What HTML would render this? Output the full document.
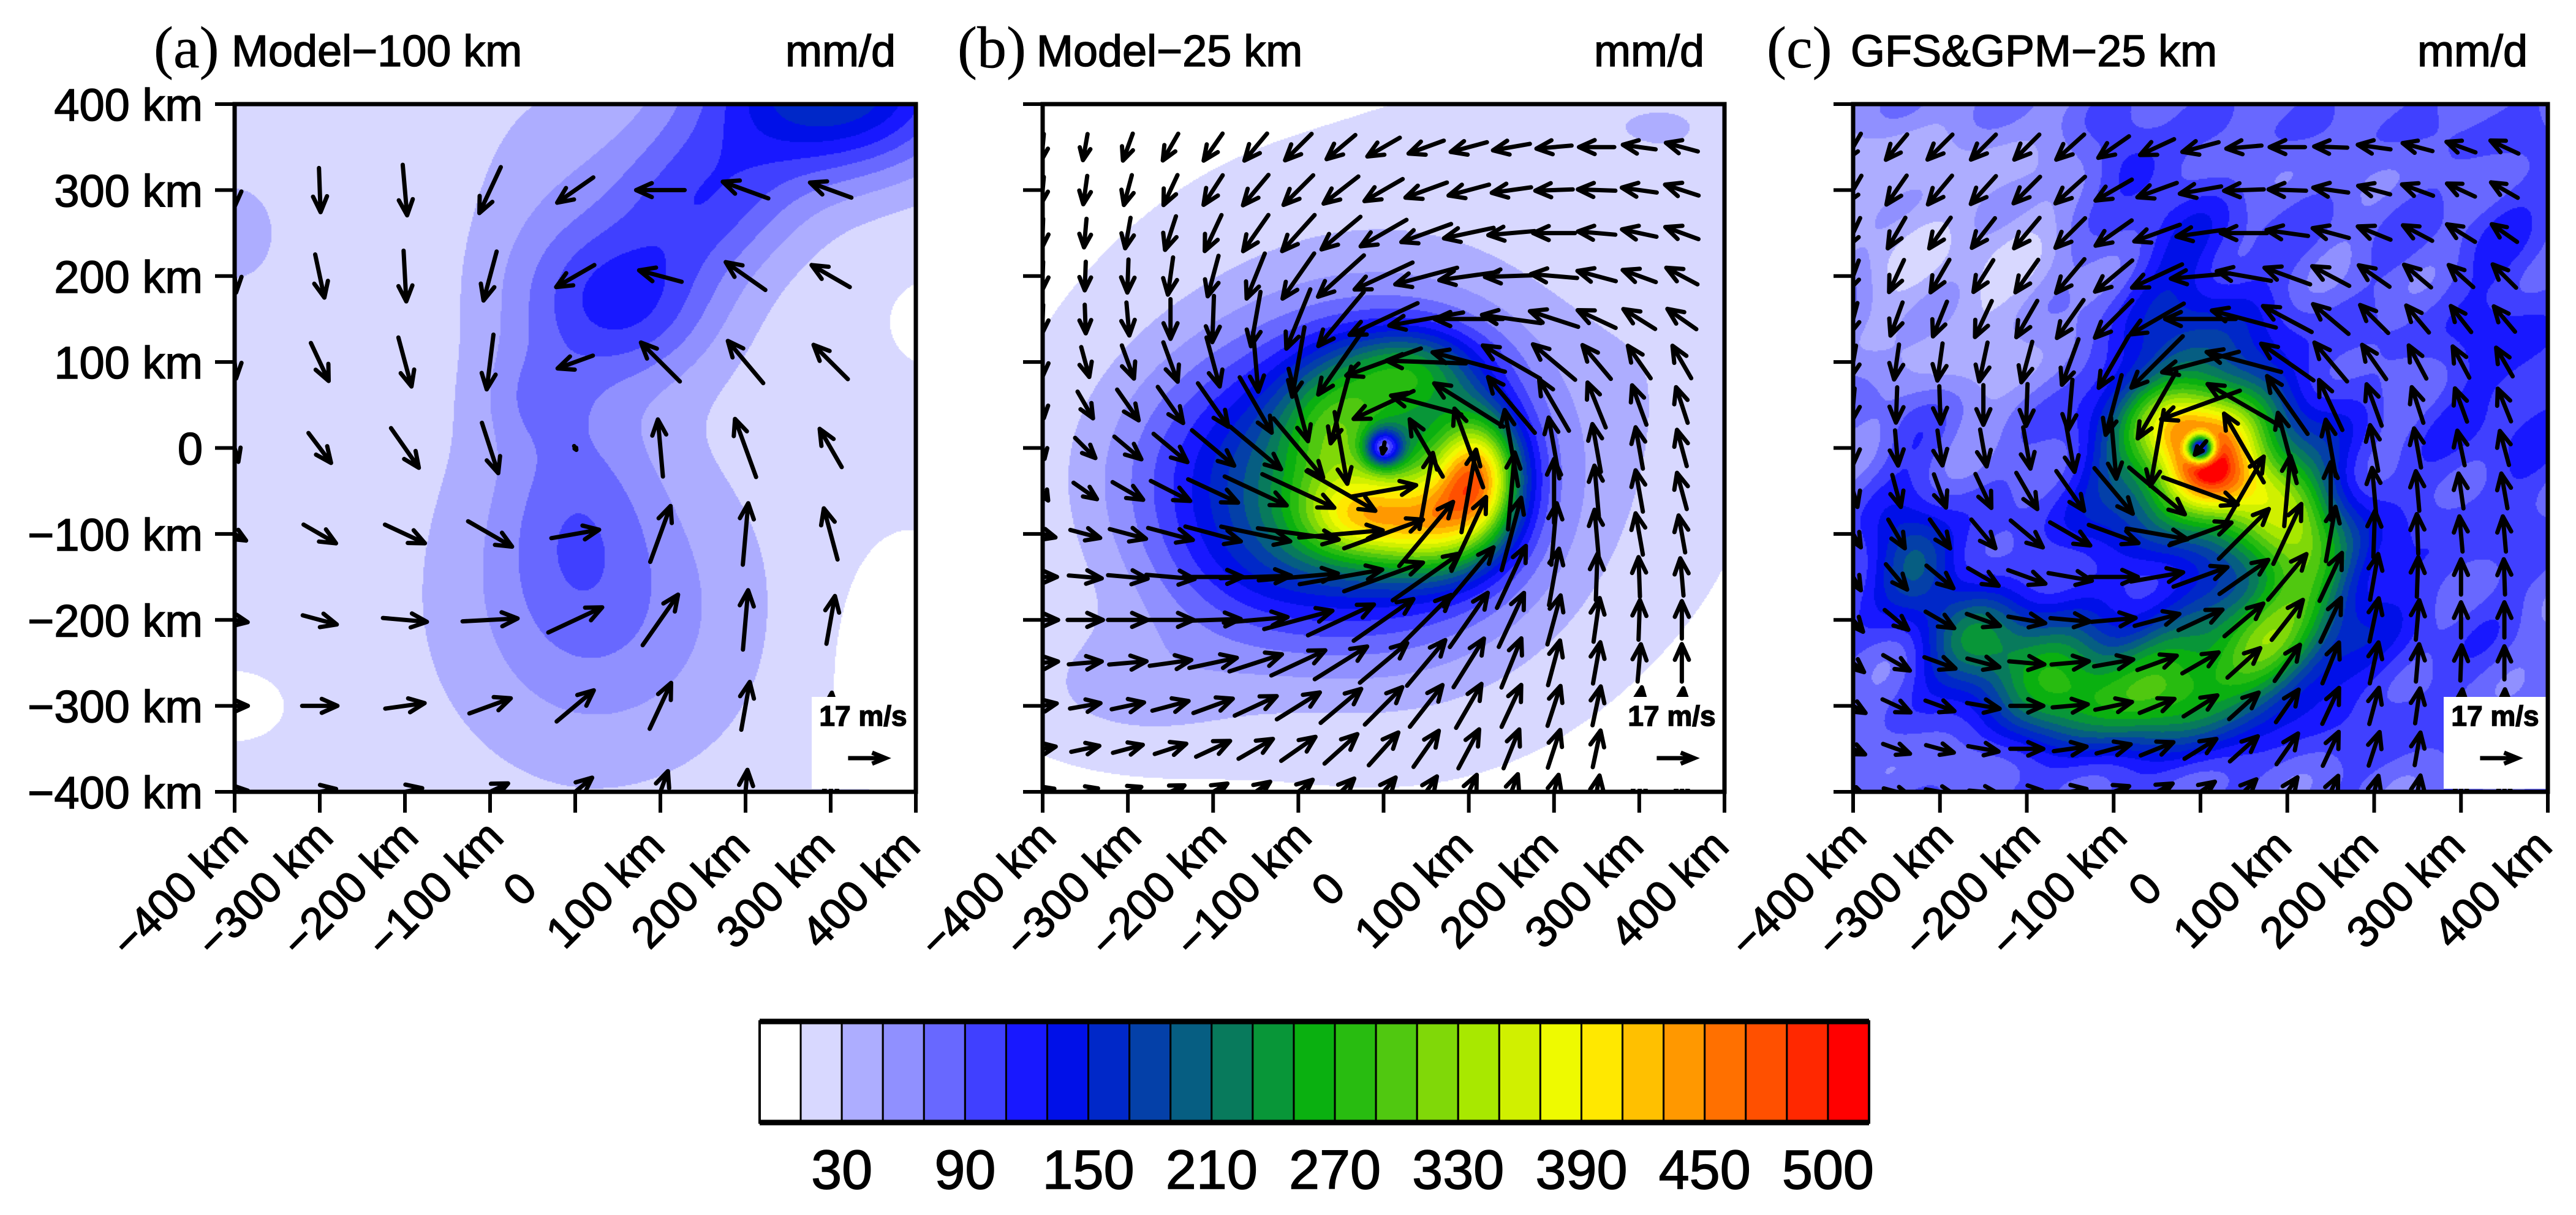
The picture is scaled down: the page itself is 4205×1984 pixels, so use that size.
<!DOCTYPE html>
<html><head><meta charset="utf-8">
<style>
html,body{margin:0;padding:0;background:#fff}
#root{position:relative;width:4205px;height:1984px;background:#fff;overflow:hidden}
canvas{position:absolute}
svg{position:absolute;left:0;top:0}
text{font-family:"Liberation Sans",sans-serif;fill:#000;stroke:#000;stroke-width:1.5}
</style></head>
<body>
<div id="root">
<canvas id="ca"></canvas>
<canvas id="cb"></canvas>
<canvas id="cc"></canvas>
<svg id="sv" width="4205" height="1984" xmlns="http://www.w3.org/2000/svg"></svg>
</div>
<script>
// ---------- data ----------
const levels = [10,30,50,70,90,110,130,150,170,190,210,230,250,270,290,310,330,350,370,390,410,430,450,470,490,500];
const colors = ['#ffffff','#d8d8ff','#adadff','#9090ff','#6868ff','#4040ff','#1818ff','#0010e8','#0028c8','#0440a8','#065e82','#087a5c','#089638','#0ab010','#28bc10','#50c810','#80d808','#a8e800','#d0f000','#eefa00','#ffe800','#ffc000','#ff9800','#ff7000','#ff5000','#ff2800','#ff0000'];
const cbLabels = ['30','90','150','210','270','330','390','450','500'];
const cbLabelIdx = [2,5,8,11,14,17,20,23,26];
const axisTicks = [-400,-300,-200,-100,0,100,200,300,400];
const axisLabels = ['\u2212400 km','\u2212300 km','\u2212200 km','\u2212100 km','0','100 km','200 km','300 km','400 km'];

// precipitation blobs: [x km, y km, rx km, ry km, amplitude mm/d]
const fieldA_base = 15;
const fieldA = [[300,420,150,100,160],[60,170,110,90,85],[150,290,110,90,75],[0,-80,90,140,38],[50,-200,170,160,30],
 [-30,250,110,200,24],[0,-150,200,250,22],[-400,250,100,120,18],[380,-250,100,150,-17],[-400,-300,60,40,-15],[420,150,80,80,-8],[-50,60,60,60,25]];
const fieldB_base = 0;
const fieldB = [[110,-30,50,70,280],[60,-90,70,60,180],[-30,-80,70,50,150],[-60,30,60,70,90],[30,90,80,50,130],[0,-40,170,170,150],
 [-150,-40,170,140,90],[0,0,320,300,45],[0,0,22,22,-200],[300,380,200,60,20],[350,200,100,250,15],[-300,-280,150,80,30],[-150,-150,120,80,25]];
const fieldC_base = 82;
const fieldC = [[-250,200,130,200,-50],[-380,300,60,150,-30],[0,0,110,110,260],[0,0,50,50,140],[0,0,15,15,-430],[20,-40,55,35,90],[-40,30,40,40,50],
 [-330,-130,50,60,120],[-250,-230,70,60,140],[-150,-280,80,70,170],[-30,-280,80,70,180],[70,-230,70,70,180],[120,-130,60,80,170],[80,-60,60,60,100],
 [-20,200,80,100,50],[350,100,80,200,35],[200,-200,100,150,30],[-150,-100,90,70,20],[-320,0,50,60,30],[-80,330,50,40,40]];

// wind vectors panel a: rows y = 300..-400, cols x = -400..300
const aX = [-400,-300,-200,-100,0,100,200,300];
const aY = [300,200,100,0,-100,-200,-300,-400];
const aAng = [
[270,272,275,245,215,180,160,160],
[275,282,273,255,210,165,145,150],
[275,295,285,263,200,135,130,135],
[285,307,305,288,300,95,110,120],
[330,330,335,330,10,70,85,105],
[350,345,355,3,25,55,85,80],
[0,0,8,20,40,65,80,85],
[5,10,12,25,40,70,85,85]];
const aSpd = [
[15,20,23,23,20,22,22,20],
[15,20,23,23,20,20,22,20],
[15,19,23,25,17,25,25,22],
[13,17,22,24,2,26,28,20],
[12,17,20,23,22,27,28,24],
[12,16,20,25,27,28,27,22],
[12,16,18,20,22,23,22,12],
[12,15,16,18,20,20,20,15]];

// panels b,c: rows y = 350..-400, cols x = -400..350 (50 km)
const bcX = [-400,-350,-300,-250,-200,-150,-100,-50,0,50,100,150,200,250,300,350];
const bcY = [350,300,250,200,150,100,50,0,-50,-100,-150,-200,-250,-300,-350,-400];
const bAng = [
[265,260,250,240,235,230,225,220,210,200,195,190,185,180,172,165],
[265,262,255,245,237,230,225,218,210,200,195,188,182,178,172,162],
[268,265,260,252,245,235,228,220,210,200,192,185,180,175,168,160],
[268,268,268,262,255,248,235,222,205,195,188,182,175,165,160,152],
[268,272,275,270,268,260,248,230,205,190,180,172,162,155,148,145],
[270,285,290,290,285,275,260,235,200,178,165,150,140,130,125,120],
[275,300,305,305,305,300,285,255,205,165,148,130,120,112,110,108],
[280,315,320,320,320,320,310,280,260,120,110,100,100,100,100,105],
[300,325,330,333,335,335,335,330,10,80,80,85,90,95,100,105],
[345,345,345,345,345,348,352,5,20,50,65,75,85,95,100,100],
[0,355,355,355,0,2,5,10,20,35,50,65,80,88,92,95],
[0,0,0,0,2,5,15,25,35,45,55,65,75,82,88,90],
[5,5,5,8,12,18,25,32,40,50,58,68,75,80,85,90],
[10,10,12,15,20,25,32,40,45,52,60,65,72,78,82,85],
[10,12,15,18,25,30,35,42,48,55,62,68,72,78,80,85],
[15,15,20,25,30,35,40,45,50,55,65,70,75,80,80,85]];
const bSpd = [
[12,12,13,14,15,16,17,17,17,17,17,17,16,16,15,15],
[12,13,14,15,16,18,19,20,20,20,19,18,17,17,16,16],
[13,13,14,16,18,20,22,23,24,24,23,21,19,17,16,16],
[13,13,15,17,19,22,25,28,29,29,27,24,21,18,16,16],
[13,13,15,18,21,25,29,32,34,34,31,27,23,19,17,16],
[13,14,16,19,23,27,32,36,36,36,34,30,25,20,18,17],
[12,14,17,20,24,29,34,36,30,33,37,33,27,22,19,17],
[10,13,16,20,25,30,35,33,5,30,38,35,28,22,19,17],
[10,13,16,20,25,31,36,36,30,35,38,35,29,23,19,17],
[12,14,17,21,26,32,37,38,38,38,37,34,28,22,19,17],
[13,15,18,22,27,32,36,38,38,37,35,31,26,21,18,17],
[14,16,18,21,25,29,32,33,33,32,30,27,23,20,18,17],
[14,15,17,19,22,25,27,28,28,27,26,24,21,19,17,17],
[13,14,15,17,19,21,23,24,24,24,23,21,19,18,17,16],
[12,13,14,15,17,18,19,20,20,20,20,19,18,17,16,15],
[11,12,13,14,15,16,17,17,17,17,17,17,16,15,15,14]];
const cAng = [
[240,230,225,225,225,222,215,205,195,185,180,178,172,165,160,155],
[240,235,230,228,225,222,210,200,190,182,178,172,165,160,155,150],
[245,240,235,232,230,225,215,200,188,180,172,165,158,152,148,145],
[250,245,240,238,235,230,220,205,185,170,160,152,145,140,138,135],
[255,250,248,245,240,235,225,210,180,165,152,140,135,130,128,130],
[260,262,262,258,255,250,240,225,195,165,145,130,125,118,118,120],
[265,268,272,270,268,265,255,240,200,150,125,115,110,108,110,112],
[270,275,278,280,280,280,275,260,230,120,105,100,100,100,102,105],
[285,285,290,295,300,305,310,320,340,60,85,90,95,95,98,100],
[300,300,305,310,320,330,340,350,20,45,65,80,88,92,95,95],
[300,310,320,330,340,350,0,10,20,35,50,65,80,88,90,92],
[310,320,330,340,350,355,5,15,25,40,52,65,78,85,90,90],
[320,330,340,345,355,5,10,20,30,42,55,68,78,85,88,90],
[330,335,340,350,0,5,12,22,32,42,55,65,75,82,85,88],
[335,340,345,350,0,8,15,22,32,42,55,65,72,80,85,88],
[340,345,350,355,5,10,20,28,35,45,55,65,75,80,85,88]];
const cSpd = [
[14,15,16,16,16,17,17,17,17,16,16,15,15,14,14,14],
[15,16,17,17,17,18,19,19,19,18,17,16,15,15,14,14],
[15,16,17,17,18,19,20,22,22,21,19,17,16,15,15,14],
[15,16,17,17,18,20,22,25,27,25,22,19,17,16,15,15],
[15,16,17,18,19,21,24,28,32,30,25,21,18,16,15,15],
[15,16,17,18,19,22,27,33,36,35,29,23,19,17,16,15],
[15,16,17,18,19,23,28,35,38,38,32,25,20,17,16,16],
[15,16,16,17,19,22,28,35,8,36,33,26,21,18,16,16],
[15,15,16,17,19,22,27,33,36,36,32,26,21,18,16,16],
[14,15,16,17,19,21,24,28,30,32,30,25,21,18,16,16],
[14,15,16,16,18,20,22,24,26,27,27,24,21,18,16,16],
[14,14,15,16,17,18,20,21,22,23,23,22,20,18,16,16],
[13,14,15,15,16,17,18,19,19,20,20,20,19,17,16,15],
[13,14,14,15,15,16,17,17,18,18,18,18,17,16,15,15],
[12,13,13,14,15,15,16,16,17,17,17,17,16,15,15,14],
[12,12,13,13,14,15,15,16,16,16,16,16,15,15,14,14]];
const refSpeed = 17;

// ---------- layout ----------
const NS = 'http://www.w3.org/2000/svg';
const PX_PER_MS = 3.6;
const panels = [
 {id:'a', canvas:'ca', x0:383, x1:1495, y0:170, y1:1293, title:'Model\u2212100 km', tag:'(a)', tagX:251, titleX:378,
  base:fieldA_base, blobs:fieldA, noise:0, X:aX, Y:aY, ang:aAng, spd:aSpd, ylabels:true},
 {id:'b', canvas:'cb', x0:1702, x1:2815, y0:170, y1:1293, title:'Model\u221225 km', tag:'(b)', tagX:1563, titleX:1692,
  base:fieldB_base, blobs:fieldB, noise:0, X:bcX, Y:bcY, ang:bAng, spd:bSpd, ylabels:false},
 {id:'c', canvas:'cc', x0:3025, x1:4159, y0:170, y1:1293, title:'GFS&GPM\u221225 km', tag:'(c)', tagX:2884, titleX:3021,
  base:fieldC_base, blobs:fieldC, noise:16, X:bcX, Y:bcY, ang:cAng, spd:cSpd, ylabels:false}
];
function sx(P,km){return P.x0+(km+400)/800*(P.x1-P.x0);}
function sy(P,km){return P.y0+(400-km)/800*(P.y1-P.y0);}
function el(tag,attrs,parent){const e=document.createElementNS(NS,tag);for(const k in attrs)e.setAttribute(k,attrs[k]);(parent||svg).appendChild(e);return e;}
const svg=document.getElementById('sv');

function fieldVal(P,x,y){
  let v=P.base;
  for(const b of P.blobs){const dx=(x-b[0])/b[2],dy=(y-b[1])/b[3];v+=b[4]*Math.exp(-dx*dx-dy*dy);}
  if(P.noise) v+=P.noise*Math.sin(x/37+y/53)*Math.cos(y/29-x/41)+0.6*P.noise*Math.sin(x/19-y/23);
  return v;
}
function colorIdx(v){let i=0;while(i<levels.length&&v>=levels[i])i++;return i;}

panels.forEach(P=>{
  const cv=document.getElementById(P.canvas);
  const W=Math.round(P.x1-P.x0),H=Math.round(P.y1-P.y0);
  cv.width=W;cv.height=H;cv.style.left=P.x0+'px';cv.style.top=P.y0+'px';
  const ctx=cv.getContext('2d');
  const st=2;
  for(let py=0;py<H;py+=st){for(let px=0;px<W;px+=st){
    const x=(px+1)/W*800-400,y=400-(py+1)/H*800;
    ctx.fillStyle=colors[colorIdx(fieldVal(P,x,y))];ctx.fillRect(px,py,st,st);
  }}
  const cp=el('clipPath',{id:'clip-'+P.id});
  el('rect',{x:P.x0,y:P.y0,width:P.x1-P.x0,height:P.y1-P.y0},cp);
  const g=el('g',{'clip-path':'url(#clip-'+P.id+')'});
  
  
  for(let i=0;i<P.Y.length;i++)for(let j=0;j<P.X.length;j++){
    const cx=sx(P,P.X[j]),cy=sy(P,P.Y[i]);
    const th=P.ang[i][j]*Math.PI/180,L=P.spd[i][j]*PX_PER_MS;
    const dx=Math.cos(th),dy=-Math.sin(th);
    const xa=cx-dx*L/2,ya=cy-dy*L/2,xb=cx+dx*L/2,yb=cy+dy*L/2;
    const h=Math.min(28,L*0.5),a=0.42;
    const h1x=xb-h*(dx*Math.cos(a)-dy*Math.sin(a)),h1y=yb-h*(dy*Math.cos(a)+dx*Math.sin(a));
    const h2x=xb-h*(dx*Math.cos(a)+dy*Math.sin(a)),h2y=yb-h*(dy*Math.cos(a)-dx*Math.sin(a));
    const p=el('path',{d:`M${xa.toFixed(1)} ${ya.toFixed(1)}L${xb.toFixed(1)} ${yb.toFixed(1)}M${h1x.toFixed(1)} ${h1y.toFixed(1)}L${xb.toFixed(1)} ${yb.toFixed(1)}L${h2x.toFixed(1)} ${h2y.toFixed(1)}`,
      fill:'none',stroke:'#000','stroke-width':7,'stroke-linecap':'round','stroke-linejoin':'round'},g);
    
    
  }
  const rg=el('g',{});
  
  
  el('rect',{x:P.x1-170,y:P.y1-155,width:167,height:150,fill:'#fff'},rg);
  const rt=el('text',{x:P.x1-86,y:P.y1-108,'text-anchor':'middle','font-size':46,'font-weight':'bold'},rg);
  rt.textContent=refSpeed+' m/s';
  const rl=refSpeed*PX_PER_MS, rcx=P.x1-80, rcy=P.y1-55;
  el('path',{d:`M${rcx-rl/2} ${rcy}L${rcx+rl/2} ${rcy}M${rcx+rl/2-22} ${rcy-9}L${rcx+rl/2} ${rcy}L${rcx+rl/2-22} ${rcy+9}`,fill:'none',stroke:'#000','stroke-width':7},rg);
  const fr=el('rect',{x:P.x0,y:P.y0,width:P.x1-P.x0,height:P.y1-P.y0,fill:'none',stroke:'#000','stroke-width':7});
  
  
  axisTicks.forEach((t,k)=>{
    const X=sx(P,t),Y=sy(P,t);
    el('line',{x1:X,y1:P.y1,x2:X,y2:P.y1+34,stroke:'#000','stroke-width':6});
    el('line',{x1:P.x0-32,y1:Y,x2:P.x0,y2:Y,stroke:'#000','stroke-width':6});
    const xl=el('text',{x:X-90,y:1452,'text-anchor':'middle','dominant-baseline':'central','font-size':72,transform:`rotate(-45 ${X-90} 1452)`});
    xl.textContent=axisLabels[k];
    
    
    if(P.ylabels){
      const yl=el('text',{x:P.x0-52,y:Y+27,'text-anchor':'end','font-size':74});
      yl.textContent=axisLabels[k];
      
      
    }
  });
  const tg=el('text',{x:P.tagX,y:110,'font-size':96,style:'font-family:"Liberation Serif",serif;stroke-width:0.5'});
  tg.textContent=P.tag;
  
  
  const tt=el('text',{x:P.titleX,y:108,'font-size':72});
  tt.textContent=P.title;
  
  
  const tu=el('text',{x:P.x1-33,y:108,'text-anchor':'end','font-size':72});
  tu.textContent='mm/d';
  
  
});

const cbX0=1240,cbX1=3051,cbY0=1668,cbY1=1833;
const cbW=(cbX1-cbX0)/colors.length;
const cbg=el('g',{});


colors.forEach((c,i)=>{
  const r=el('rect',{x:cbX0+i*cbW,y:cbY0,width:cbW,height:cbY1-cbY0,fill:c,stroke:'#000','stroke-width':3},cbg);
  
  
});
el('rect',{x:cbX0,y:cbY0,width:cbX1-cbX0,height:cbY1-cbY0,fill:'none',stroke:'#000','stroke-width':4},cbg);
el('line',{x1:cbX0,y1:cbY0,x2:cbX1,y2:cbY0,stroke:'#000','stroke-width':9},cbg);
el('line',{x1:cbX0,y1:cbY1,x2:cbX1,y2:cbY1,stroke:'#000','stroke-width':9},cbg);
cbLabels.forEach((s,k)=>{
  const t=el('text',{x:cbX0+cbLabelIdx[k]*cbW,y:1941,'text-anchor':'middle','font-size':90},cbg);
  t.textContent=s;
  
  
});
</script>
</body></html>
